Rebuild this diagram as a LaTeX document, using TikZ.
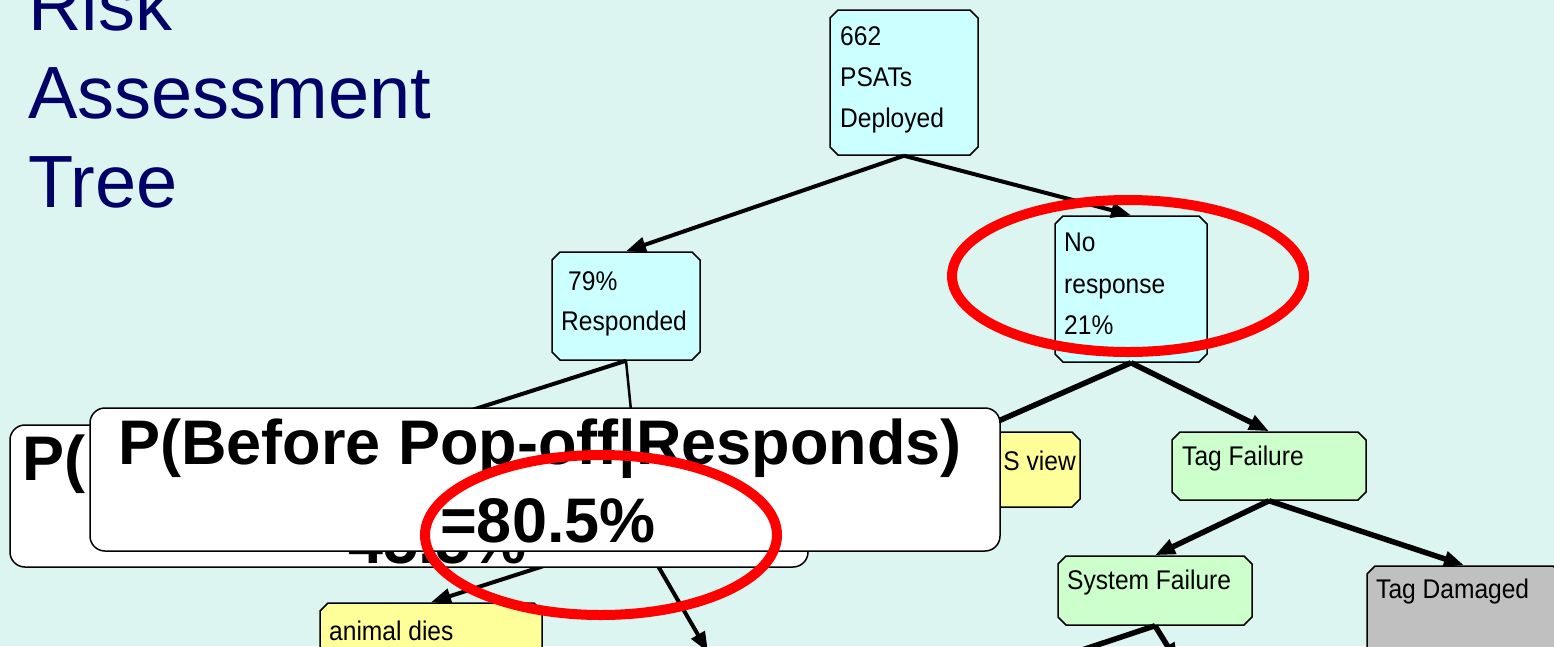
\documentclass[tikz,border=0pt]{standalone}
\usepackage{fontspec}
\setmainfont{Liberation Sans}
\newfontfamily\boxfont[FakeStretch=0.91]{Liberation Sans}
\usetikzlibrary{arrows.meta,shapes.misc}

\definecolor{bgmint}{RGB}{220,245,240}
\definecolor{titleblue}{RGB}{0,0,102}
\definecolor{boxcyan}{RGB}{204,255,255}
\definecolor{boxgreen}{RGB}{204,255,204}
\definecolor{boxyellow}{RGB}{255,255,153}
\definecolor{boxgray}{RGB}{192,192,192}
\definecolor{markred}{RGB}{255,0,0}

\tikzset{
  % bevelled box: the inner box is the outer size less 2 x 4pt
  treebox/.style 2 args={chamfered rectangle, chamfered rectangle xsep=4pt,
    chamfered rectangle ysep=4pt, draw=black, line width=1.5pt,
    inner sep=0pt, text width=#1, text height=#2, text depth=0pt},
  cyanbox/.style 2 args={treebox={#1}{#2}, fill=boxcyan},
  greenbox/.style 2 args={treebox={#1}{#2}, fill=boxgreen},
  yellowbox/.style 2 args={treebox={#1}{#2}, fill=boxyellow},
  graybox/.style 2 args={treebox={#1}{#2}, fill=boxgray},
  boxtext/.style={anchor=base west, inner sep=0pt,
    font=\boxfont\fontsize{27}{32}\selectfont},
  titletext/.style={anchor=base west, inner sep=0pt, text=titleblue,
    font=\fontsize{74}{89}\selectfont},
  callout/.style={rectangle, rounded corners=15pt, draw=black,
    line width=1.5pt, fill=white, inner sep=0pt},
  callouttext/.style={anchor=base west, inner sep=0pt,
    font=\bfseries\fontsize{63}{75}\selectfont},
  conn/.style={line width=4pt, -{Triangle[length=20pt,width=15pt]}},
  heavyconn/.style={conn, line width=5.5pt},
  thinconn/.style={conn, line width=2.5pt},
  ring/.style={draw=markred, line width=10pt}
}

\begin{document}
\begin{tikzpicture}[x=1pt,y=-1pt]
\path[use as bounding box] (0,0) rectangle (1554,646);
\fill[bgmint] (0,0) rectangle (1554,646);
\clip (0,0) rectangle (1554,646);

% heading
\node[titletext] (t1) at (28,30) {Risk};
\node[titletext] (t2) at (28,118) {Assessment};
\node[titletext] (t3) at (28,207) {Tree};

% tree boxes
\node[cyanbox={140pt}{137pt}] (psat) at (904,82.5) {};
\node[cyanbox={140pt}{100pt}] (resp) at (626,306) {};
\node[cyanbox={144pt}{138pt}] (nores) at (1131,289) {};
\node[yellowbox={202pt}{67pt}] (gps) at (975,469.5) {};
\node[greenbox={186pt}{60pt}] (tagf) at (1269,466) {};
\node[greenbox={186pt}{61pt}] (sysf) at (1155,590.5) {};
\node[graybox={186pt}{106pt}] (tagd) at (1464,623) {};
\node[yellowbox={214pt}{69pt}] (animal) at (431,641.5) {};

% box labels
\node[boxtext] (l1) at (840,45) {662};
\node[boxtext] (l2) at (840,86) {PSATs};
\node[boxtext] (l3) at (840,127) {Deployed};
\node[boxtext] (l4) at (568,290) {79\%};
\node[boxtext] (l5) at (561,330) {Responded};
\node[boxtext] (l6) at (1064,251) {No};
\node[boxtext] (l7) at (1064,293) {response};
\node[boxtext] (l8) at (1064,334) {21\%};
\node[boxtext, anchor=base east] (l9) at (1076,470) {S view};
\node[boxtext] (l10) at (1182,465) {Tag Failure};
\node[boxtext] (l11) at (1067,589) {System Failure};
\node[boxtext] (l12) at (1376,598) {Tag Damaged};
\node[boxtext] (l13) at (329,640) {animal dies};

% branch ends that run behind the callouts or off the page
\coordinate (h1) at (400,433);
\coordinate (h2) at (636,460);
\coordinate (h3) at (640,535);
\coordinate (h4) at (708,652);
\coordinate (h5) at (1040,664);
\coordinate (h6) at (1178,663);

% connectors
\draw[conn] (psat.south) -- (resp.north);
\draw[conn] (psat.south) -- (nores.north);
\draw[conn] (resp.south) -- (h1);
\draw[thinconn] (resp.south) -- (h2);
\draw[heavyconn] (nores.south) -- (gps.north);
\draw[heavyconn] (nores.south) -- (tagf.north);
\draw[heavyconn] (tagf.south) -- (sysf.north);
\draw[heavyconn] (tagf.south) -- (tagd.north);
\draw[heavyconn] (sysf.south) -- (h5);
\draw[heavyconn] (sysf.south) -- (h6);
\draw[conn] (h3) -- (animal.north);
\draw[conn] (h3) -- (h4);

% probability callouts
\node[callout, minimum width=798pt, minimum height=142pt] (back) at (409,496) {};
\node[callouttext] (b1) at (22,480) {P(};
\node[callouttext] (b2) at (348,563) {45.5\%};
\node[callout, minimum width=910pt, minimum height=143pt] (front) at (545,479.5) {};
\node[callouttext] (f1) at (118,464) {P(Before Pop-off|Responds)};
\node[callouttext] (f2) at (440,542) {=80.5\%};

% highlight rings
\draw[ring] (1128,276) ellipse [x radius=176, y radius=76];
\draw[ring] (601,535) ellipse [x radius=176, y radius=80];
\end{tikzpicture}
\end{document}
